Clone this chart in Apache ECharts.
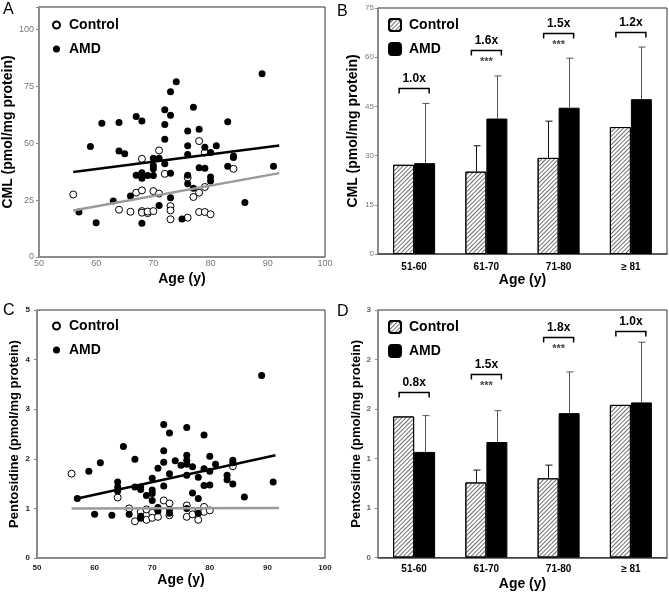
<!DOCTYPE html>
<html><head><meta charset="utf-8">
<script src="https://cdn.jsdelivr.net/npm/echarts@6/dist/echarts.min.js"></script>
<style>html,body{margin:0;padding:0;background:#fff}#c{width:669px;height:594px}</style>
</head><body><div id="c"></div>
<script>
// ---------- DATA ----------
const cmlControl = [[56,27.5],[64,20.8],[66,19.9],[67,28.3],[68,29.3],[68,20.2],[68,19.5],[69,19.3],[69,20.0],[68,43.2],[70,29.0],[70,20.2],[71,27.9],[71,46.9],[72,36.6],[73,22.4],[73,20.5],[73,16.6],[76,17.3],[76,34.9],[77,26.4],[78,28.3],[78,19.8],[79,19.8],[80,18.8],[79,30.8],[78,51.0],[79,46.0],[84,38.8]];
const cmlAMD = [[57,19.8],[59,48.6],[60,15.1],[61,58.9],[63,24.6],[64,59.2],[64,46.6],[65,45.4],[66,26.8],[67,61.8],[67,36.0],[68,59.8],[68,37.1],[68,34.7],[68,14.8],[69,35.9],[70,43.5],[70,40.3],[70,38.8],[70,35.9],[71,43.5],[71,22.7],[72,64.8],[72,58.3],[72,51.8],[72,41.0],[73,72.7],[73,62.4],[73,36.9],[73,26.1],[74,77.1],[75,16.7],[76,55.4],[76,48.9],[76,45.1],[76,36.0],[76,32.2],[77,65.9],[77,30.3],[78,56.2],[78,39.3],[79,48.3],[79,39.1],[80,46.0],[80,35.2],[80,33.4],[81,48.9],[83,59.5],[83,39.9],[84,44.4],[84,43.8],[86,24.0],[89,80.6],[91,39.9]];
const cmlControlFit = [[56,20.5],[92,36.9]];
const cmlAMDFit = [[56,37.4],[92,49.1]];

const pentoControl = [[56,1.70],[64,1.22],[66,1.00],[67,0.74],[68,0.93],[69,0.98],[69,0.77],[70,0.91],[70,0.81],[71,0.83],[72,1.16],[73,1.10],[73,0.86],[76,1.06],[76,0.83],[77,0.88],[78,0.94],[78,0.77],[79,1.03],[79,0.93],[80,0.96],[84,1.85]];
const pentoAMD = [[57,1.20],[59,1.75],[60,0.88],[61,1.92],[63,0.86],[64,1.53],[64,1.43],[64,1.35],[65,2.25],[66,0.88],[67,1.99],[67,1.43],[68,1.43],[68,1.38],[68,0.84],[68,0.80],[69,1.26],[70,1.61],[70,1.37],[70,1.30],[70,1.16],[71,1.81],[71,1.02],[71,0.95],[72,2.69],[72,2.16],[72,1.93],[72,1.45],[73,2.52],[73,1.70],[73,0.98],[73,0.90],[74,1.96],[75,1.87],[76,2.63],[76,2.07],[76,1.97],[76,1.89],[76,1.67],[76,1.00],[77,1.84],[77,1.31],[78,1.63],[78,1.20],[78,0.90],[79,2.48],[79,1.80],[79,1.46],[80,2.05],[80,1.75],[80,1.47],[81,1.89],[83,1.67],[83,1.58],[84,1.97],[84,1.92],[84,1.49],[86,1.23],[89,3.68],[91,1.53]];
const pentoControlFit = [[56,1.00],[92,1.01]];
const pentoAMDFit = [[57,1.20],[91.4,2.07]];

const ageGroups = ['51-60','61-70','71-80','\u2265 81'];
const cmlBarControl = [27.2,25.1,29.3,38.7];
const cmlBarAMD = [27.7,41.3,44.6,47.2];
const cmlErrControl = [null,33.0,40.5,null];
const cmlErrAMD = [45.9,54.3,59.7,63.1];
const cmlBracket = [50.5,62.2,67.5,67.7];
const cmlFold = ['1.0x','1.6x','1.5x','1.2x'];
const cmlSig = ['','***','***',''];

const pentoBarControl = [1.71,0.91,0.96,1.85];
const pentoBarAMD = [1.28,1.40,1.75,1.88];
const pentoErrControl = [null,1.06,1.12,null];
const pentoErrAMD = [1.72,1.78,2.25,2.61];
const pentoBracket = [2.01,2.22,2.67,2.75];
const pentoFold = ['0.8x','1.5x','1.8x','1.0x'];
const pentoSig = ['','***','***',''];

// ---------- STYLE ----------
const FONT = 'Arial, "Liberation Sans", sans-serif';
const BARW = 21;
const hatch = {symbol:'rect', symbolSize:1, dashArrayX:[1,0], dashArrayY:[1,1.6], rotation:-Math.PI/4, color:'#707070'};

function errData(means, errs){
  const out = [];
  means.forEach((m,i)=>{ if(errs[i]!=null) out.push([i,m,errs[i]]); });
  return out;
}
function errRender(offset, color){
  return function(params, api){
    const i = api.value(0);
    const lo = api.coord([i, api.value(1)]);
    const hi = api.coord([i, api.value(2)]);
    const x = Math.round(lo[0] + offset) + 0.5;
    return {type:'group', children:[
      {type:'line', shape:{x1:x,y1:lo[1],x2:x,y2:hi[1]}, style:{stroke:color,lineWidth:1}},
      {type:'line', shape:{x1:x-3,y1:hi[1],x2:x+4,y2:hi[1]}, style:{stroke:color,lineWidth:1}}
    ]};
  };
}
function bracketRender(folds, sigs){
  return function(params, api){
    const i = api.value(0);
    const p = api.coord([i, api.value(1)]);
    const half = 15, tick = 5;
    const y = Math.round(p[1]) + 0.5;
    const ch = [
      {type:'polyline', shape:{points:[[p[0]-half,y+tick],[p[0]-half,y],[p[0]+half,y],[p[0]+half,y+tick]]}, style:{stroke:'#000',lineWidth:1.5,fill:null}},
      {type:'text', x:p[0], y:y-4, style:{text:folds[i], align:'center', verticalAlign:'bottom', font:'bold 12px '+FONT, fill:'#000'}}
    ];
    if (sigs[i]) ch.push({type:'text', x:p[0], y:y+6, style:{text:sigs[i], align:'center', verticalAlign:'top', font:'bold 11px '+FONT, fill:'#444'}});
    return {type:'group', children:ch};
  };
}

const grids = [
  {left:37, top:7, width:288, height:250},
  {left:378, top:8, width:289, height:246},
  {left:37, top:310, width:288, height:248},
  {left:378, top:310, width:289, height:247.5}
].map(g=>Object.assign(g,{show:true, borderColor:'#333', borderWidth:1, backgroundColor:'transparent', containLabel:false}));

const nameStyle = {fontFamily:FONT, fontWeight:'bold', fontSize:14, color:'#000'};
function scatterX(idx, gap, margin){
  return {gridIndex:idx, type:'value', min:50, max:100, interval:10,
    axisLine:{lineStyle:{color:'#888', width:1.5}}, axisTick:{show:false}, splitLine:{show:false},
    axisLabel:{color: idx===0?'#777':'#222', fontSize:idx===0?9:8, fontWeight: idx===0?'normal':'bold', fontFamily:FONT, margin:margin},
    name:'Age (y)', nameLocation:'middle', nameGap:gap, nameTextStyle:nameStyle};
}
function catX(idx, gap, margin){
  return {gridIndex:idx, type:'category', data:ageGroups,
    axisLine:{lineStyle:{color:'#444', width:1.5}}, axisTick:{show:false},
    axisLabel:{color:'#000', fontSize:10, fontWeight:'bold', fontFamily:FONT, margin:margin},
    name:'Age (y)', nameLocation:'middle', nameGap:gap, nameTextStyle:nameStyle};
}
function valY(idx, o){
  return Object.assign({gridIndex:idx, type:'value',
    axisLine:{show:true, lineStyle:{color:'#888', width:1.5}},
    axisTick:{show:true, length:3, lineStyle:{color:'#888'}}, splitLine:{show:false},
    nameLocation:'middle', nameTextStyle:Object.assign({}, nameStyle, {fontSize: o.nameSize||14})}, o.axis);
}
const legText = {fontSize:14, fontWeight:'bold', lineHeight:14, color:'#000', fontFamily:FONT};

const option = {
  animation:false,
  backgroundColor:'#fff',
  textStyle:{fontFamily:FONT},
  grid:grids,
  graphic:[
    {type:'text', left:3, top:2, style:{text:'A', font:'16px '+FONT, fill:'#000'}},
    {type:'text', left:337, top:4, style:{text:'B', font:'16px '+FONT, fill:'#000'}},
    {type:'text', left:3, top:303, style:{text:'C', font:'16px '+FONT, fill:'#000'}},
    {type:'text', left:337, top:304, style:{text:'D', font:'16px '+FONT, fill:'#000'}}
  ],
  legend:[
    {left:52, top:18, padding:0, orient:'vertical', itemWidth:7, itemHeight:7, itemGap:10, data:['Control_A','AMD_A'],
     formatter:n=>n.split('_')[0], textStyle:Object.assign({padding:[0,0,0,4]}, legText)},
    {left:388, top:18, padding:0, orient:'vertical', itemWidth:12, itemHeight:12, itemGap:10, data:['Control_B','AMD_B'],
     formatter:n=>n.split('_')[0], textStyle:Object.assign({padding:[0,0,0,3]}, legText)},
    {left:52, top:319, padding:0, orient:'vertical', itemWidth:7, itemHeight:7, itemGap:10, data:['Control_C','AMD_C'],
     formatter:n=>n.split('_')[0], textStyle:Object.assign({padding:[0,0,0,4]}, legText)},
    {left:388, top:320, padding:0, orient:'vertical', itemWidth:12, itemHeight:12, itemGap:10, data:['Control_D','AMD_D'],
     formatter:n=>n.split('_')[0], textStyle:Object.assign({padding:[0,0,0,3]}, legText)}
  ],
  xAxis:[ scatterX(0,15,2), catX(1,16,8), scatterX(2,14,6), catX(3,20,7) ],
  yAxis:[
    valY(0,{axis:{min:0, max:110, interval:25, name:'CML (pmol/mg protein)', nameGap:17,
      axisLabel:{color:'#777', fontSize:9, fontFamily:FONT, margin:5, formatter:v=> v>100?'':String(v)}}}),
    valY(1,{axis:{min:0, max:75, interval:15, name:'CML (pmol/mg protein)', nameGap:18,
      axisLabel:{color:'#777', fontSize:8, fontFamily:FONT, margin:4}}}),
    valY(2,{nameSize:13, axis:{min:0, max:5, interval:1, name:'Pentosidine (pmol/mg protein)', nameGap:16,
      axisLabel:{color:'#222', fontSize:8, fontWeight:'bold', fontFamily:FONT, margin:7}}}),
    valY(3,{nameSize:13, axis:{min:0, max:3, interval:0.6, name:'Pentosidine (pmol/mg protein)', nameGap:11,
      axisLabel:{color:'#666', fontSize:8, fontWeight:'bold', fontFamily:FONT, margin:7, formatter:v=>String(Math.round(v))}}})
  ],
  series:[
    // Panel A
    {name:'Control_A', type:'scatter', xAxisIndex:0, yAxisIndex:0, data:cmlControl, symbol:'circle', symbolSize:7,
     itemStyle:{color:'#fff', borderColor:'#000', borderWidth:1, opacity:1}, z:3},
    {name:'AMD_A', type:'scatter', xAxisIndex:0, yAxisIndex:0, data:cmlAMD, symbol:'circle', symbolSize:7,
     itemStyle:{color:'#000', opacity:1}, z:3},
    {name:'fitCA', type:'line', xAxisIndex:0, yAxisIndex:0, data:cmlControlFit, symbol:'none', lineStyle:{color:'#9a9a9a', width:2.5}, z:4},
    {name:'fitAA', type:'line', xAxisIndex:0, yAxisIndex:0, data:cmlAMDFit, symbol:'none', lineStyle:{color:'#000', width:2.5}, z:4},
    // Panel B
    {name:'Control_B', type:'bar', xAxisIndex:1, yAxisIndex:1, data:cmlBarControl, barWidth:BARW, barGap:'0%',
     itemStyle:{color:'#fff', borderColor:'#000', borderWidth:1, decal:hatch}},
    {name:'AMD_B', type:'bar', xAxisIndex:1, yAxisIndex:1, data:cmlBarAMD, barWidth:BARW, barGap:'0%',
     itemStyle:{color:'#000', borderColor:'#000', borderWidth:1}},
    {type:'custom', xAxisIndex:1, yAxisIndex:1, data:errData(cmlBarControl,cmlErrControl), encode:{x:0,y:[1,2]},
     renderItem:errRender(-BARW/2,'#111'), z:5},
    {type:'custom', xAxisIndex:1, yAxisIndex:1, data:errData(cmlBarAMD,cmlErrAMD), encode:{x:0,y:[1,2]},
     renderItem:errRender(BARW/2,'#555'), z:5},
    {type:'custom', xAxisIndex:1, yAxisIndex:1, data:cmlBracket.map((v,i)=>[i,v]), encode:{x:0,y:1},
     renderItem:bracketRender(cmlFold,cmlSig), z:5},
    // Panel C
    {name:'Control_C', type:'scatter', xAxisIndex:2, yAxisIndex:2, data:pentoControl, symbol:'circle', symbolSize:7,
     itemStyle:{color:'#fff', borderColor:'#000', borderWidth:1, opacity:1}, z:3},
    {name:'AMD_C', type:'scatter', xAxisIndex:2, yAxisIndex:2, data:pentoAMD, symbol:'circle', symbolSize:7,
     itemStyle:{color:'#000', opacity:1}, z:3},
    {name:'fitCC', type:'line', xAxisIndex:2, yAxisIndex:2, data:pentoControlFit, symbol:'none', lineStyle:{color:'#9a9a9a', width:2.5}, z:4},
    {name:'fitAC', type:'line', xAxisIndex:2, yAxisIndex:2, data:pentoAMDFit, symbol:'none', lineStyle:{color:'#000', width:2.5}, z:4},
    // Panel D
    {name:'Control_D', type:'bar', xAxisIndex:3, yAxisIndex:3, data:pentoBarControl, barWidth:BARW, barGap:'0%',
     itemStyle:{color:'#fff', borderColor:'#000', borderWidth:1, decal:hatch}},
    {name:'AMD_D', type:'bar', xAxisIndex:3, yAxisIndex:3, data:pentoBarAMD, barWidth:BARW, barGap:'0%',
     itemStyle:{color:'#000', borderColor:'#000', borderWidth:1}},
    {type:'custom', xAxisIndex:3, yAxisIndex:3, data:errData(pentoBarControl,pentoErrControl), encode:{x:0,y:[1,2]},
     renderItem:errRender(-BARW/2,'#111'), z:5},
    {type:'custom', xAxisIndex:3, yAxisIndex:3, data:errData(pentoBarAMD,pentoErrAMD), encode:{x:0,y:[1,2]},
     renderItem:errRender(BARW/2,'#555'), z:5},
    {type:'custom', xAxisIndex:3, yAxisIndex:3, data:pentoBracket.map((v,i)=>[i,v]), encode:{x:0,y:1},
     renderItem:bracketRender(pentoFold,pentoSig), z:5}
  ]
};
const chart = echarts.init(document.getElementById('c'), null, {renderer:'canvas'});
chart.setOption(option);
</script>
</body></html>
